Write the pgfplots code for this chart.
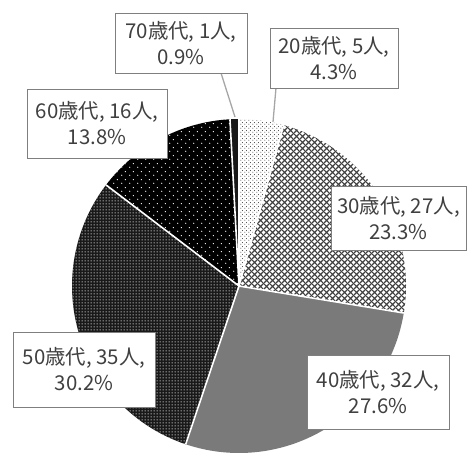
\documentclass[border=0pt]{standalone}
\usepackage{pgfplots}
\pgfplotsset{compat=1.18}
\usepackage{fontspec}
\setmainfont{Noto Sans CJK JP}
\usetikzlibrary{patterns.meta}

% 20s: dark dots on white
\pgfdeclarepattern{name=DotsA, type=uncolored,
  bottom left={\pgfpoint{0bp}{0bp}}, top right={\pgfpoint{4bp}{4bp}},
  tile size={\pgfpoint{4bp}{4bp}},
  code={\pgfpathcircle{\pgfpoint{1bp}{1bp}}{0.6bp}
        \pgfpathcircle{\pgfpoint{3bp}{3bp}}{0.6bp}
        \pgfusepath{fill}}}
% 30s: diagonal crosshatch
\pgfdeclarepattern{name=CrossB, type=uncolored,
  bottom left={\pgfpoint{0bp}{0bp}}, top right={\pgfpoint{6bp}{6bp}},
  tile size={\pgfpoint{6bp}{6bp}},
  code={\pgfsetlinewidth{1.3bp}
        \pgfpathmoveto{\pgfpoint{-1bp}{-1bp}}\pgfpathlineto{\pgfpoint{7bp}{7bp}}
        \pgfpathmoveto{\pgfpoint{-1bp}{7bp}}\pgfpathlineto{\pgfpoint{7bp}{-1bp}}
        \pgfusepath{stroke}}}
% 50s: dense white dots on black
\pgfdeclarepattern{name=DotsD, type=uncolored,
  bottom left={\pgfpoint{0bp}{0bp}}, top right={\pgfpoint{3bp}{3bp}},
  tile size={\pgfpoint{3bp}{3bp}},
  code={\pgfpathcircle{\pgfpoint{1.5bp}{1.5bp}}{0.7bp}
        \pgfusepath{fill}}}
% 60s: sparse white dots on black
\pgfdeclarepattern{name=DotsE, type=uncolored,
  bottom left={\pgfpoint{0bp}{0bp}}, top right={\pgfpoint{8bp}{8bp}},
  tile size={\pgfpoint{8bp}{8bp}},
  code={\pgfpathcircle{\pgfpoint{2bp}{2bp}}{0.7bp}
        \pgfpathcircle{\pgfpoint{6bp}{6bp}}{0.7bp}
        \pgfusepath{fill}}}

\definecolor{txt}{HTML}{404040}
\definecolor{boxc}{HTML}{7F7F7F}
\definecolor{lead}{HTML}{A6A6A6}
\definecolor{g40}{HTML}{7A7A7A}

\newcommand{\total}{116}

\begin{document}
\begin{tikzpicture}
\begin{axis}[hide axis, scale only axis, x=1bp, y=1bp,
  xmin=0, xmax=467, ymin=0, ymax=452, clip=false]
% counts: 20s=5, 30s=27, 40s=32, 50s=35, 60s=16, 70s=1 (cumulative 0,5,32,64,99,115,116)
\fill[white, postaction={pattern=DotsA, pattern color=black!80}]
  (axis cs:239,166) -- ++({90-0/\total*360}:167bp)
  arc[start angle={90-0/\total*360}, end angle={90-5/\total*360}, radius=167bp] -- cycle;
\fill[white, postaction={pattern=CrossB, pattern color=black!75}]
  (axis cs:239,166) -- ++({90-5/\total*360}:167bp)
  arc[start angle={90-5/\total*360}, end angle={90-32/\total*360}, radius=167bp] -- cycle;
\fill[g40]
  (axis cs:239,166) -- ++({90-32/\total*360}:167bp)
  arc[start angle={90-32/\total*360}, end angle={90-64/\total*360}, radius=167bp] -- cycle;
\fill[black!90, postaction={pattern=DotsD, pattern color=white}]
  (axis cs:239,166) -- ++({90-64/\total*360}:167bp)
  arc[start angle={90-64/\total*360}, end angle={90-99/\total*360}, radius=167bp] -- cycle;
\fill[black, postaction={pattern=DotsE, pattern color=white}]
  (axis cs:239,166) -- ++({90-99/\total*360}:167bp)
  arc[start angle={90-99/\total*360}, end angle={90-115/\total*360}, radius=167bp] -- cycle;
\fill[black!90]
  (axis cs:239,166) -- ++({90-115/\total*360}:167bp)
  arc[start angle={90-115/\total*360}, end angle={90-116/\total*360}, radius=167bp] -- cycle;
% separators
\draw[white, line width=1.6bp] (axis cs:239,166) -- ++({90-0/\total*360}:167bp);
\draw[white, line width=1.6bp] (axis cs:239,166) -- ++({90-5/\total*360}:167bp);
\draw[white, line width=1.6bp] (axis cs:239,166) -- ++({90-32/\total*360}:167bp);
\draw[white, line width=1.6bp] (axis cs:239,166) -- ++({90-64/\total*360}:167bp);
\draw[white, line width=1.6bp] (axis cs:239,166) -- ++({90-99/\total*360}:167bp);
\draw[white, line width=1.6bp] (axis cs:239,166) -- ++({90-115/\total*360}:167bp);
% leader lines
\draw[lead, line width=1.3bp] (axis cs:221,379) -- (axis cs:235,335);
\draw[lead, line width=1.3bp] (axis cs:276,364) -- (axis cs:273,330);
% label boxes
\draw[boxc, fill=white, line width=1bp] (axis cs:270,364) rectangle (axis cs:398,424);
\draw[boxc, fill=white, line width=1bp] (axis cs:331,202) rectangle (axis cs:466,266);
\draw[boxc, fill=white, line width=1bp] (axis cs:307,23) rectangle (axis cs:449,97);
\draw[boxc, fill=white, line width=1bp] (axis cs:13,45) rectangle (axis cs:155,120);
\draw[boxc, fill=white, line width=1bp] (axis cs:27,294) rectangle (axis cs:167,363);
\draw[boxc, fill=white, line width=1bp] (axis cs:115,379) rectangle (axis cs:247,439);
\tikzset{lbl/.style={text=txt, align=center, inner sep=0pt, font=\fontsize{20.5}{26}\selectfont}}
\node[lbl] at (axis cs:334,394) {20歳代, 5人,\\4.3\%};
\node[lbl] at (axis cs:398.5,234) {30歳代, 27人,\\23.3\%};
\node[lbl] at (axis cs:378,60) {40歳代, 32人,\\27.6\%};
\node[lbl] at (axis cs:84,82.5) {50歳代, 35人,\\30.2\%};
\node[lbl] at (axis cs:97,328.5) {60歳代, 16人,\\13.8\%};
\node[lbl] at (axis cs:181,409) {70歳代, 1人,\\0.9\%};
\end{axis}
\path[use as bounding box] (0,0) rectangle (467bp,452bp);
\end{tikzpicture}
\end{document}
